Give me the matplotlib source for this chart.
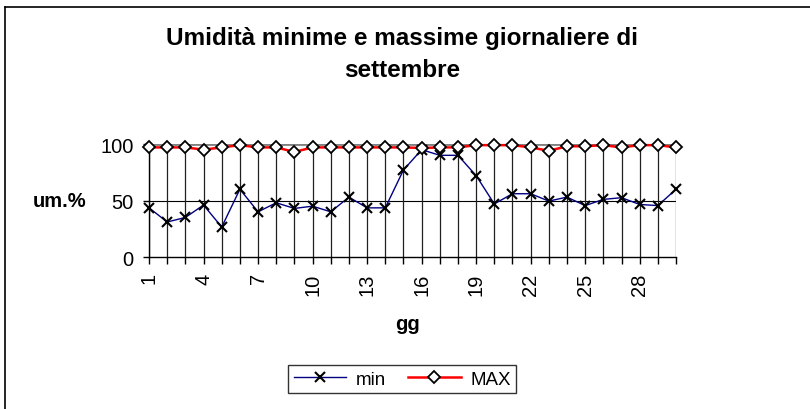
import numpy as np
import matplotlib.pyplot as plt

plt.rcParams['font.family'] = ['Liberation Sans', 'DejaVu Sans']

# Giorni di settembre e umidità (%)
giorni = list(range(1, 31))
um_min = [43.5, 31, 35, 46, 26.5, 60, 40, 48, 43, 45,
          40, 53, 43.5, 43.5, 77, 95, 90, 90, 72, 47,
          56, 56, 49.5, 53, 45.5, 51, 52.5, 46.5, 45.5, 60]
um_max = [97, 97, 97, 95, 97, 99, 97, 97, 93, 97,
          97, 97, 97, 97, 97, 96.5, 97, 97, 99, 99,
          99, 97, 94, 98, 98, 99, 97, 99, 99, 97]
etichette_x = [1, 4, 7, 10, 13, 16, 19, 22, 25, 28]
etichette_y = [0, 50, 100]

fig = plt.figure(figsize=(8.1, 4.1), dpi=100)
ax = fig.add_axes([0.184, 0.3707, 0.6506, 0.2756])

# cornice del grafico (solo lati sinistro e superiore visibili)
fig.add_artist(plt.Line2D([5 / 810, 5 / 810], [0, 1 - 8 / 410], color='black', lw=1.2,
                          transform=fig.transFigure))
fig.add_artist(plt.Line2D([5 / 810, 1], [1 - 8 / 410, 1 - 8 / 410], color='black', lw=1.2,
                          transform=fig.transFigure))

# griglia orizzontale
ax.axhline(50, color='black', lw=0.8, zorder=1)
ax.axhline(100, color='#808080', lw=2, zorder=1)

# linee di proiezione dal massimo all'asse
ax.vlines(giorni, 0, um_max, color='#202020', lw=0.9, zorder=2)

ax.plot(giorni, um_min, color='#000080', lw=1.0, marker='x', ms=7.5, mew=1.5,
        mec='black', label='min', zorder=3, clip_on=False)
ax.plot(giorni, um_max, color='red', lw=1.8, marker='D', ms=6.5, mew=1.3,
        mec='black', mfc='white', label='MAX', zorder=4, clip_on=False)

ax.set_xlim(1, 30)
ax.set_ylim(0, 100)
ax.set_xticks(giorni)
ax.set_xticklabels([str(g) if g in etichette_x else '' for g in giorni],
                   rotation=90, fontsize=14.5)
ax.set_yticks(etichette_y)
ax.set_yticklabels([str(v) for v in etichette_y], fontsize=14.5)
ax.tick_params(axis='x', length=5, width=1, pad=6, direction='out')
ax.tick_params(axis='y', length=4, width=1, pad=7, direction='out')
for s in ['top', 'right']:
    ax.spines[s].set_visible(False)
for s in ['left', 'bottom']:
    ax.spines[s].set_color('black')
    ax.spines[s].set_linewidth(1)

fig.text(0.496, 1 - 27 / 410, 'Umidità minime e massime giornaliere di\nsettembre',
         ha='center', va='top', fontsize=17.5, fontweight='bold', linespacing=1.5)
fig.text(60 / 810, 1 - 202 / 410, 'um.%', ha='center', va='center',
         fontsize=14.5, fontweight='bold')
fig.text(408 / 810, 1 - 325 / 410, 'gg', ha='center', va='center',
         fontsize=14.5, fontweight='bold')

leg = fig.legend(loc='center', bbox_to_anchor=(402 / 810, 1 - 380 / 410), ncol=2,
                 fontsize=13.5, frameon=True, fancybox=False, edgecolor='black',
                 handlelength=2.8, columnspacing=1.2, handletextpad=0.5,
                 borderpad=0.3)
leg.get_frame().set_linewidth(1)

fig.savefig('out.png', dpi=100)
